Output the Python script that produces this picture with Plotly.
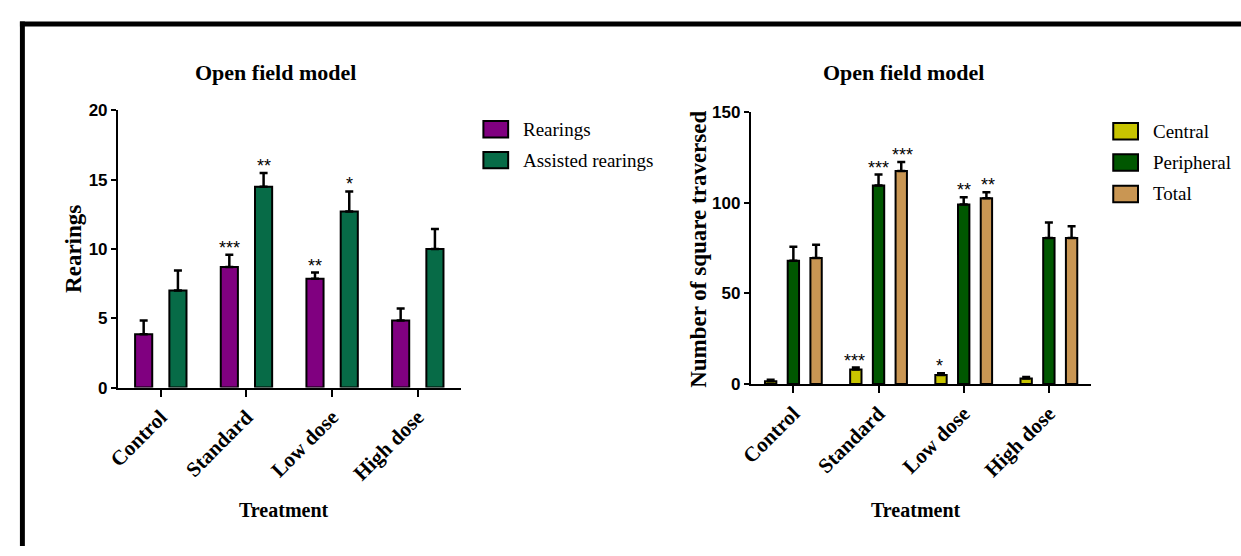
import plotly.graph_objects as go

W, H = 1241, 556

categories = ["Control", "Standard", "Low dose", "High dose"]

# Left chart: rearings
rearings = [3.85, 8.7, 7.85, 4.85]
rearings_err = [1.0, 0.88, 0.45, 0.85]
assisted = [7.0, 14.5, 12.7, 10.0]
assisted_err = [1.45, 0.98, 1.45, 1.45]
rearings_sig = ["", "***", "**", ""]
assisted_sig = ["", "**", "*", ""]
left_ticks = [0, 5, 10, 15, 20]

# Right chart: squares traversed
central = [1.5, 8.0, 5.0, 3.0]
central_err = [0.8, 1.1, 0.9, 0.9]
peripheral = [68.0, 109.5, 99.0, 80.5]
peripheral_err = [7.7, 6.0, 4.0, 8.6]
total = [69.5, 117.5, 102.5, 80.5]
total_err = [7.3, 5.0, 3.3, 6.5]
central_sig = ["", "***", "*", ""]
peripheral_sig = ["", "***", "**", ""]
total_sig = ["", "***", "**", ""]
right_ticks = [0, 50, 100, 150]

C_REAR = "#800080"
C_ASSIST = "#076b47"
C_CENTRAL = "#c8c400"
C_PERIPH = "#005700"
C_TOTAL = "#c99653"

SERIF = "Liberation Serif"
SANS = "Liberation Sans"


def px_x(x):
    return x / W


def px_y(y):
    return 1 - y / H


fig = go.Figure()


def add_bar(name, vals, errs, color, xa, ya):
    fig.add_trace(go.Bar(
        x=categories, y=vals, name=name, xaxis=xa, yaxis=ya,
        marker=dict(color=color, line=dict(color="black", width=2)),
        error_y=dict(type="data", array=errs, arrayminus=[0] * len(errs),
                     symmetric=False, color="black", thickness=2.5, width=4),
        showlegend=False,
    ))


add_bar("Rearings", rearings, rearings_err, C_REAR, "x", "y")
add_bar("Assisted rearings", assisted, assisted_err, C_ASSIST, "x", "y")
add_bar("Central", central, central_err, C_CENTRAL, "x2", "y2")
add_bar("Peripheral", peripheral, peripheral_err, C_PERIPH, "x2", "y2")
add_bar("Total", total, total_err, C_TOTAL, "x2", "y2")

annotations = []


def add_stars(vals, errs, sigs, xa, ya, offset_idx, n_groups, group_w):
    slot = group_w / n_groups
    for i, (v, e, s) in enumerate(zip(vals, errs, sigs)):
        if not s:
            continue
        xpos = i - group_w / 2 + slot * (offset_idx + 0.5)
        annotations.append(dict(
            x=xpos, y=v + e, xref=xa, yref=ya, text=s, showarrow=False,
            yanchor="bottom", yshift=-5,
            font=dict(family=SANS, size=18, color="black"),
        ))


GW_L = 0.8
GW_R = 0.84
add_stars(rearings, rearings_err, rearings_sig, "x", "y", 0, 2, GW_L)
add_stars(assisted, assisted_err, assisted_sig, "x", "y", 1, 2, GW_L)
add_stars(central, central_err, central_sig, "x2", "y2", 0, 3, GW_R)
add_stars(peripheral, peripheral_err, peripheral_sig, "x2", "y2", 1, 3, GW_R)
add_stars(total, total_err, total_sig, "x2", "y2", 2, 3, GW_R)


def txt(x, y, text, size, bold=True, angle=0, xanchor="center", family=SERIF):
    annotations.append(dict(
        x=px_x(x), y=px_y(y), xref="paper", yref="paper",
        text=f"<b>{text}</b>" if bold else text,
        showarrow=False, textangle=angle, xanchor=xanchor, yanchor="middle",
        font=dict(family=family, size=size, color="black"),
    ))


txt(266, 66, "Open field model", 22)
txt(900, 66, "Open field model", 22)
txt(62, 248, "Rearings", 23, angle=-90)
txt(693, 249, "Number of square traversed", 23, angle=-90)
txt(275, 519, "Treatment", 20)
txt(913, 519, "Treatment", 20)

shapes = []


def legend(x0, y0, items, step):
    for k, (label, color) in enumerate(items):
        yt = y0 + k * step
        shapes.append(dict(type="rect", xref="paper", yref="paper",
                           x0=px_x(x0), x1=px_x(x0 + 25), y0=px_y(yt), y1=px_y(yt + 17),
                           fillcolor=color, line=dict(color="black", width=2)))
        txt(x0 + 38, yt + 8.5, label, 19, bold=False, xanchor="left")


legend(476, 116, [("Rearings", C_REAR), ("Assisted rearings", C_ASSIST)], 32)
legend(1112, 118, [("Central", C_CENTRAL), ("Peripheral", C_PERIPH), ("Total", C_TOTAL)], 32.5)

# Black frame (top and left edges)
shapes.append(dict(type="rect", xref="paper", yref="paper", x0=px_x(8), x1=1.0,
                   y0=px_y(18), y1=px_y(13), fillcolor="black", line=dict(width=0)))
shapes.append(dict(type="rect", xref="paper", yref="paper", x0=px_x(8), x1=px_x(13),
                   y0=0, y1=px_y(13), fillcolor="black", line=dict(width=0)))

xaxis_common = dict(
    type="category", range=[-0.5, 3.5], showline=True, linecolor="black", linewidth=2,
    ticks="outside", ticklen=7, tickwidth=2, tickcolor="black", tickangle=-45,
    tickfont=dict(family=SERIF, size=21, color="black"), showgrid=False, zeroline=False,
    fixedrange=True,
)
yaxis_common = dict(
    showline=True, linecolor="black", linewidth=2, ticks="outside", ticklen=5,
    tickwidth=2, tickcolor="black", tickfont=dict(family=SANS, size=17, color="black"),
    showgrid=False, zeroline=False, fixedrange=True,
)

fig.update_layout(
    width=W, height=H, margin=dict(l=0, r=0, t=0, b=0),
    paper_bgcolor="white", plot_bgcolor="white",
    barmode="group", bargap=0.2, bargroupgap=0.5,
    xaxis=dict(**xaxis_common, domain=[px_x(107), px_x(453)], anchor="y",
               ticktext=[f"<b>{c}</b>" for c in categories], tickvals=categories),
    yaxis=dict(**yaxis_common, domain=[px_y(392), px_y(105)], range=[0, 20],
               tickvals=left_ticks, ticktext=[f"<b>{t}</b>" for t in left_ticks], anchor="x"),
    xaxis2=dict(**xaxis_common, domain=[px_x(746), px_x(1090)], anchor="y2",
                ticktext=[f"<b>{c}</b>" for c in categories], tickvals=categories),
    yaxis2=dict(**yaxis_common, domain=[px_y(388.3), px_y(106.7)], range=[0, 150],
                tickvals=right_ticks, ticktext=[f"<b>{t}</b>" for t in right_ticks], anchor="x2"),
    annotations=annotations, shapes=shapes, showlegend=False,
)

pin_script = (
    "document.documentElement.style.margin='0';"
    "document.documentElement.style.padding='0';"
    "document.documentElement.style.overflow='hidden';"
    "document.body.style.margin='0';"
    "document.body.style.padding='0';"
    "document.body.style.overflow='hidden';"
    "var gd=document.getElementById('{plot_id}');"
    "gd.style.position='fixed';gd.style.left='0px';gd.style.top='0px';"
)

fig.write_html("out.html", config={"displayModeBar": False}, post_script=pin_script)
